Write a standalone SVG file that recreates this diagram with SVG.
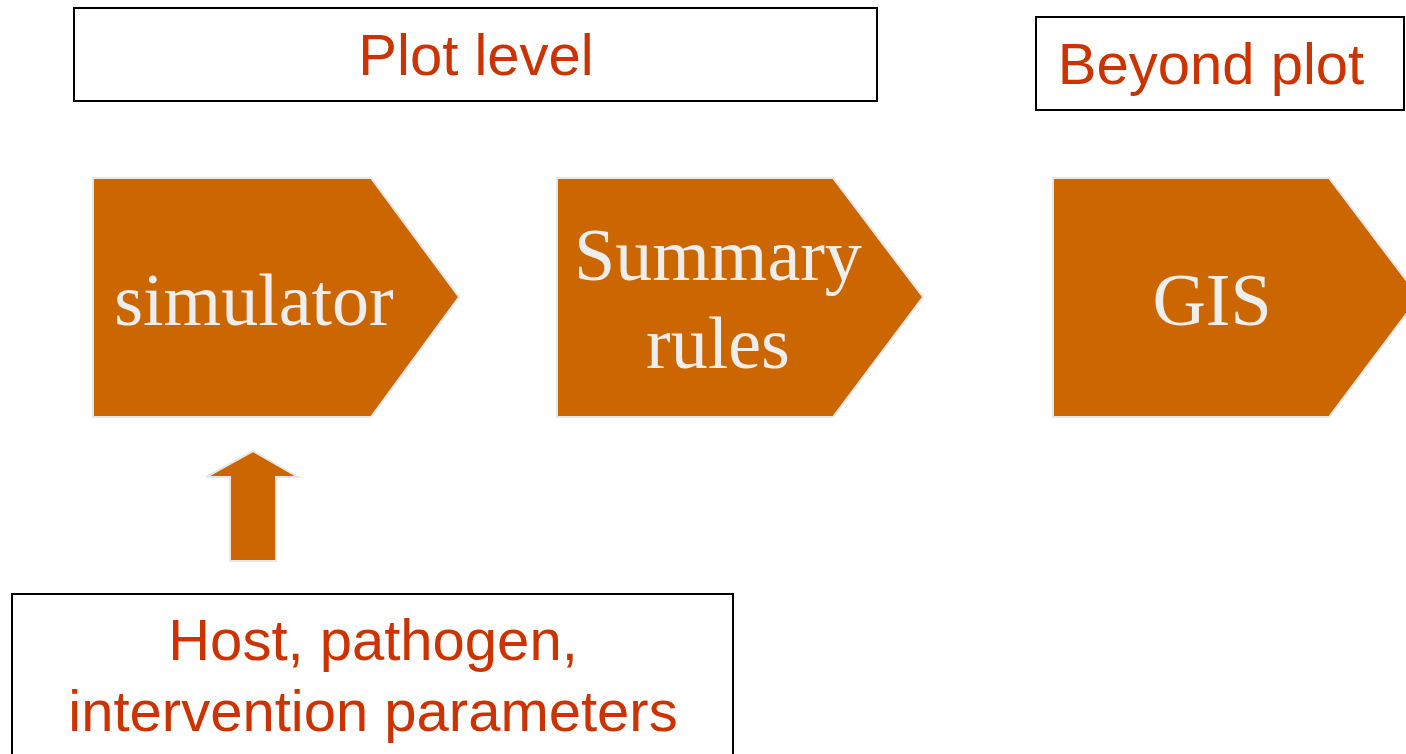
<svg xmlns="http://www.w3.org/2000/svg" width="1406" height="754" viewBox="0 0 1406 754">
<style>
.box{fill:#ffffff;stroke:#000000;stroke-width:2}
.lbl{font-family:"Liberation Sans",Arial,sans-serif;font-size:58px;fill:#cc3300;text-anchor:middle}
.chev{fill:#cc6600;stroke:#e8e8e8;stroke-width:2}
.ctx{font-family:"Liberation Serif","Times New Roman",serif;font-size:74px;fill:#eeeeee;text-anchor:middle}
</style>
<rect x="0" y="0" width="1406" height="754" fill="#ffffff"/>
<rect x="1012" y="0" width="394" height="754" fill="#fefefe"/>
<g id="plot-level">
<rect class="box" x="74" y="8" width="803" height="93"/>
<text class="lbl" x="476" y="75">Plot level</text>
</g>
<g id="beyond-plot">
<rect class="box" x="1036" y="17" width="368" height="93"/>
<text class="lbl" x="1211" y="84">Beyond plot</text>
</g>
<g id="simulator">
<polygon class="chev" points="93,178 371,178 459,297 371,417 93,417"/>
<text class="ctx" x="254" y="325">simulator</text>
</g>
<g id="summary-rules">
<polygon class="chev" points="557,178 833,178 923,297 833,417 557,417"/>
<text class="ctx" x="718" y="280">Summary</text>
<text class="ctx" x="718" y="368">rules</text>
</g>
<g id="gis">
<polygon class="chev" points="1053,178 1329,178 1419,297 1329,417 1053,417"/>
<text class="ctx" x="1212" y="325">GIS</text>
</g>
<g id="connectors">
<polygon class="chev" points="253,451 298,477 276,477 276,561 230,561 230,477 206,477"/>
</g>
<g id="parameters">
<rect class="box" x="12" y="594" width="721" height="170"/>
<text class="lbl" x="373" y="660">Host, pathogen,</text>
<text class="lbl" x="373" y="731">intervention parameters</text>
</g>
</svg>
